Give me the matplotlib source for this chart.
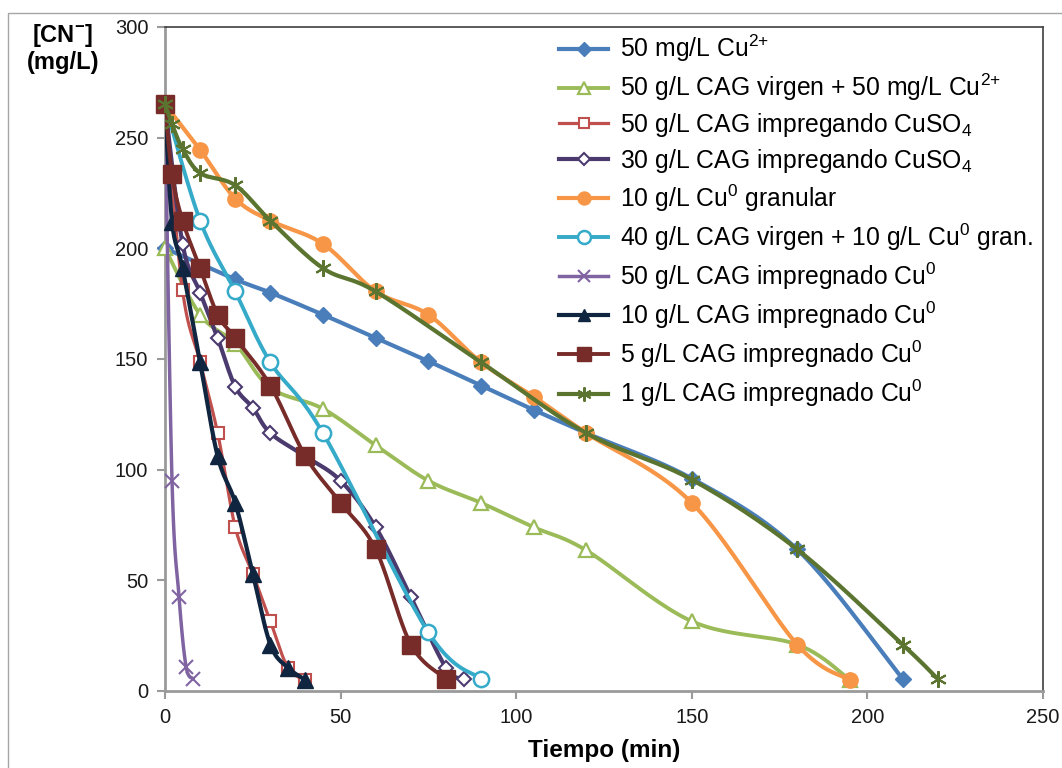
import numpy as np
import matplotlib
matplotlib.use("Agg")
import matplotlib.pyplot as plt
from matplotlib.lines import Line2D
from matplotlib.patches import Rectangle

plt.rcParams['font.family'] = ['Liberation Sans', 'DejaVu Sans']
plt.rcParams['mathtext.fontset'] = 'custom'
plt.rcParams['mathtext.rm'] = 'Liberation Sans'
plt.rcParams['mathtext.bf'] = 'Liberation Sans:bold'
plt.rcParams['mathtext.default'] = 'regular'

# ---- data: time (min) and cyanide concentration (mg/L) ----
t_cu2 = [0, 20, 30, 45, 60, 75, 90, 105, 120, 150, 180, 210]
cn_cu2 = [200, 186, 180, 170, 159.5, 149, 138, 127, 116.5, 96, 64, 5.5]

t_cagv_cu2 = [0, 10, 20, 30, 45, 60, 75, 90, 105, 120, 150, 180, 195]
cn_cagv_cu2 = [200, 170, 157, 137, 127.5, 111, 95, 85, 74, 63.5, 31.5, 21, 5]

t_cag50_so4 = [0, 5, 10, 15, 20, 25, 30, 35, 40]
cn_cag50_so4 = [265, 181, 148.5, 116.5, 74, 53, 31.5, 10.5, 5]

t_cag30_so4 = [0, 5, 10, 15, 20, 25, 30, 40, 50, 60, 70, 80, 85]
cn_cag30_so4 = [265, 202, 180, 159.5, 137.5, 128, 116.5, 106, 95, 74, 42.5, 10.5, 5.5]

t_cu0 = [0, 10, 20, 30, 45, 60, 75, 90, 105, 120, 150, 180, 195]
cn_cu0 = [265, 244.5, 222.5, 212.5, 202, 180.5, 170, 148.5, 133, 116.5, 85, 21, 5]

t_cagv_cu0 = [0, 10, 20, 30, 45, 75, 90]
cn_cagv_cu0 = [265, 212.5, 180.5, 148.5, 116.5, 26.5, 5.5]

t_cag50_cu0 = [0, 2, 4, 6, 8]
cn_cag50_cu0 = [265, 95, 42.5, 11, 5.5]

t_cag10_cu0 = [0, 2, 5, 10, 15, 20, 25, 30, 35, 40]
cn_cag10_cu0 = [265, 212, 191, 148.5, 106, 85, 53, 21, 10.5, 5]

t_cag5_cu0 = [0, 2, 5, 10, 15, 20, 30, 40, 50, 60, 70, 80]
cn_cag5_cu0 = [265, 233.5, 212.5, 191, 170, 159.5, 138, 106, 85, 64, 21, 5.5]

t_cag1_cu0 = [0, 2, 5, 10, 20, 30, 45, 60, 90, 120, 150, 180, 210, 220]
cn_cag1_cu0 = [265, 256, 245, 234, 228.5, 212.5, 191, 180.5, 148.5, 116.5, 95.5, 64, 21, 5.5]

labels = [
    "50 mg/L Cu$^{2{+}}$",
    "50 g/L CAG virgen + 50 mg/L Cu$^{2{+}}$",
    "50 g/L CAG impregando CuSO$_{4}$",
    "30 g/L CAG impregando CuSO$_{4}$",
    "10 g/L Cu$^{0}$ granular",
    "40 g/L CAG virgen + 10 g/L Cu$^{0}$ gran.",
    "50 g/L CAG impregnado Cu$^{0}$",
    "10 g/L CAG impregnado Cu$^{0}$",
    "5 g/L CAG impregnado Cu$^{0}$",
    "1 g/L CAG impregnado Cu$^{0}$",
]

x_ticks = [0, 50, 100, 150, 200, 250]
y_ticks = [0, 50, 100, 150, 200, 250, 300]

series = [
    (t_cu2, cn_cu2, dict(color='#4a7ebb', lw=3.0, marker='D', ms=8, mfc='#4a7ebb', mew=1)),
    (t_cagv_cu2, cn_cagv_cu2, dict(color='#9bbb59', lw=2.8, marker='^', ms=10, mfc='white', mew=1.6)),
    (t_cag50_so4, cn_cag50_so4, dict(color='#c0504d', lw=2.3, marker='s', ms=9, mfc='white', mew=1.5)),
    (t_cag30_so4, cn_cag30_so4, dict(color='#4b3a6e', lw=3.0, marker='D', ms=7.5, mfc='white', mew=1.5)),
    (t_cu0, cn_cu0, dict(color='#f79646', lw=3.0, marker='o', ms=11, mfc='#f79646', mew=1)),
    (t_cagv_cu0, cn_cagv_cu0, dict(color='#35aac9', lw=2.8, marker='o', ms=11, mfc='white', mew=1.8)),
    (t_cag50_cu0, cn_cag50_cu0, dict(color='#8064a2', lw=2.5, marker='x', ms=10, mfc='#8064a2', mew=1.5)),
    (t_cag10_cu0, cn_cag10_cu0, dict(color='#10253f', lw=3.0, marker='^', ms=11, mfc='#10253f', mew=1)),
    (t_cag5_cu0, cn_cag5_cu0, dict(color='#772c2a', lw=2.8, marker='s', ms=12.5, mfc='#772c2a', mew=1)),
    (t_cag1_cu0, cn_cag1_cu0, dict(color='#5b7530', lw=3.0, marker=(6, 2, 0), ms=12, mfc='#5b7530', mew=1.5)),
]


def smooth_curve(x, y, n=25):
    """Bezier smoothing with 1/6 tangent control points (spreadsheet style)."""
    p = np.column_stack([np.asarray(x, float), np.asarray(y, float)])
    parts = []
    s = np.linspace(0, 1, n)[:, None]
    for i in range(len(p) - 1):
        p0 = p[i - 1] if i > 0 else p[i]
        p1, p2 = p[i], p[i + 1]
        p3 = p[i + 2] if i + 2 < len(p) else p[i + 1]
        c1 = p1 + (p2 - p0) / 6.0
        c2 = p2 - (p3 - p1) / 6.0
        seg = ((1 - s) ** 3) * p1 + 3 * ((1 - s) ** 2) * s * c1 + 3 * (1 - s) * s ** 2 * c2 + s ** 3 * p2
        parts.append(seg if i == 0 else seg[1:])
    out = np.vstack(parts)
    return out[:, 0], out[:, 1]


W, H = 1062, 768
fig = plt.figure(figsize=(W / 100, H / 100), dpi=100)
fig.patch.set_facecolor('white')

# outer chart border
fig.add_artist(Rectangle((8 / W, -0.02), 1.2, 1 - 13 / H + 0.02, transform=fig.transFigure,
                         fill=False, edgecolor='#a6a6a6', lw=1.0))

ax = fig.add_axes([165 / W, 1 - 691 / H, (1043 - 165) / W, (691 - 27) / H])

handles = []
for i, (tx, cy, st) in enumerate(series):
    sx, sy = smooth_curve(tx, cy)
    ax.plot(sx, sy, color=st['color'], lw=st['lw'], solid_capstyle='round', zorder=2 + i)
    ax.plot(tx, cy, ls='none', marker=st['marker'], ms=st['ms'], mfc=st['mfc'],
            mec=st['color'], mew=st['mew'], zorder=2 + i, clip_on=False)
    handles.append(Line2D([], [], color=st['color'], lw=st['lw'], marker=st['marker'],
                          ms=st['ms'] * 0.85, mfc=st['mfc'], mec=st['color'], mew=st['mew']))

ax.set_xlim(0, 250)
ax.set_ylim(0, 300)
ax.set_xticks(x_ticks)
ax.set_yticks(y_ticks)
ax.tick_params(axis='both', direction='out', length=6, width=1.5, color='#9a9a9a',
               labelsize=14.5, labelcolor='#1a1a1a', pad=6)
for side in ('left', 'bottom'):
    ax.spines[side].set_color('#9a9a9a')
    ax.spines[side].set_linewidth(2)
for side in ('top', 'right'):
    ax.spines[side].set_color('#404040')
    ax.spines[side].set_linewidth(1.2)

ax.set_xlabel('Tiempo (min)', fontsize=17.5, fontweight='bold', labelpad=9)
fig.text(63 / W, 1 - 48 / H, '[CN$\\mathbf{^{-}}$]\n(mg/L)', fontsize=17, fontweight='bold',
         ha='center', va='center', linespacing=1.1)

leg = fig.legend(handles, labels, loc='upper left', bbox_to_anchor=(559 / W, 1 - 33 / H),
                 frameon=False, fontsize=17.8, numpoints=1, handlelength=2.0,
                 handletextpad=0.45, labelspacing=0.31, borderpad=0, borderaxespad=0)

fig.savefig('out.png', dpi=100, facecolor='white')
